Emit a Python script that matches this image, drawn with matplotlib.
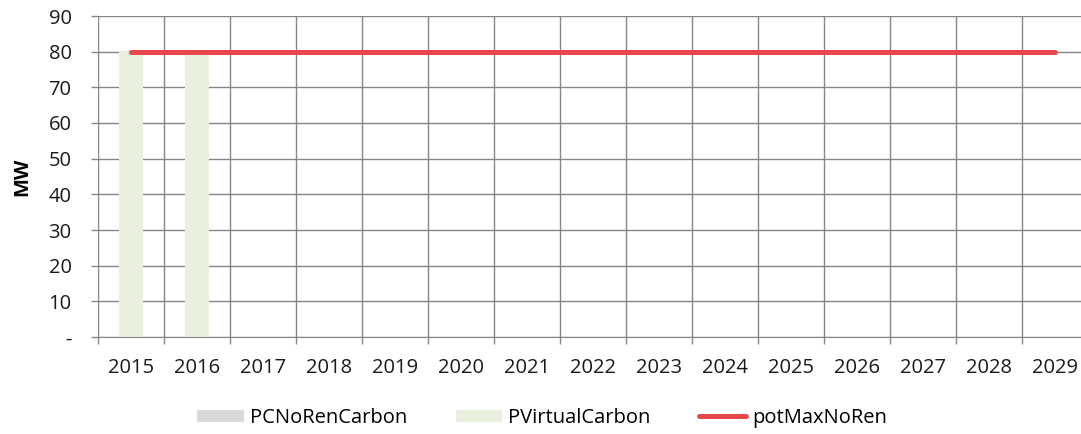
import matplotlib
matplotlib.use("Agg")
import matplotlib.pyplot as plt
from matplotlib.ticker import FixedLocator
import numpy as np

years = ["2015", "2016", "2017", "2018", "2019", "2020", "2021", "2022",
         "2023", "2024", "2025", "2026", "2027", "2028", "2029"]
pc_no_ren_carbon = [0, 0, 0, 0, 0, 0, 0, 0, 0, 0, 0, 0, 0, 0, 0]
p_virtual_carbon = [80, 80, 0, 0, 0, 0, 0, 0, 0, 0, 0, 0, 0, 0, 0]
pot_max_no_ren = [80, 80, 80, 80, 80, 80, 80, 80, 80, 80, 80, 80, 80, 80, 80]
y_ticks = [0, 10, 20, 30, 40, 50, 60, 70, 80, 90]
y_labels = ["-", "10", "20", "30", "40", "50", "60", "70", "80", "90"]

plt.rcParams['font.family'] = ['Open Sans', 'DejaVu Sans']
W, H = 1081, 434
fs = 14.5
fig = plt.figure(figsize=(W / 100, H / 100), dpi=100)
ax = fig.add_axes([98 / W, 97 / H, 990 / W, 321 / H])

x = np.arange(len(years))
grid_c = "#858585"
ax.set_axisbelow(True)
b1 = ax.bar(x, pc_no_ren_carbon, width=0.37, color="#d9d9d9", label="PCNoRenCarbon", zorder=2)
b2 = ax.bar(x, p_virtual_carbon, width=0.37, bottom=pc_no_ren_carbon, color="#e9f0de",
            label="PVirtualCarbon", zorder=2)
l1, = ax.plot(x, pot_max_no_ren, color="#e8474c", lw=3.6, solid_capstyle="round",
              label="potMaxNoRen", zorder=3)

ax.set_xlim(-0.5, len(years) - 0.5)
ax.set_ylim(0, 90)
ax.set_xticks(x)
ax.set_xticklabels(years, fontsize=fs, color="#1a1a1a")
ax.xaxis.set_minor_locator(FixedLocator(np.arange(-0.5, len(years), 1.0)))
ax.set_yticks(y_ticks)
ax.set_yticklabels(y_labels, fontsize=fs, color="#1a1a1a")
ax.tick_params(axis="x", which="major", length=0, pad=15)
ax.tick_params(axis="x", which="minor", length=5, color=grid_c, width=1)
ax.tick_params(axis="y", which="major", length=5, color=grid_c, width=1, pad=14)
ax.grid(True, which="major", axis="y", color=grid_c, lw=1)
ax.grid(True, which="minor", axis="x", color=grid_c, lw=1)
for s in ["top", "right", "left"]:
    ax.spines[s].set_visible(False)
ax.spines["bottom"].set_color(grid_c)
ax.set_ylabel("MW", fontsize=fs, fontweight="bold", labelpad=12)

fig.legend(handles=[b1, b2, l1], loc="center", bbox_to_anchor=(542 / W, 1 - 418 / H),
           ncol=3, frameon=False, fontsize=fs, handlelength=2.33, handleheight=0.6,
           columnspacing=2.4, handletextpad=0.3)

fig.savefig("out.png", dpi=100)
